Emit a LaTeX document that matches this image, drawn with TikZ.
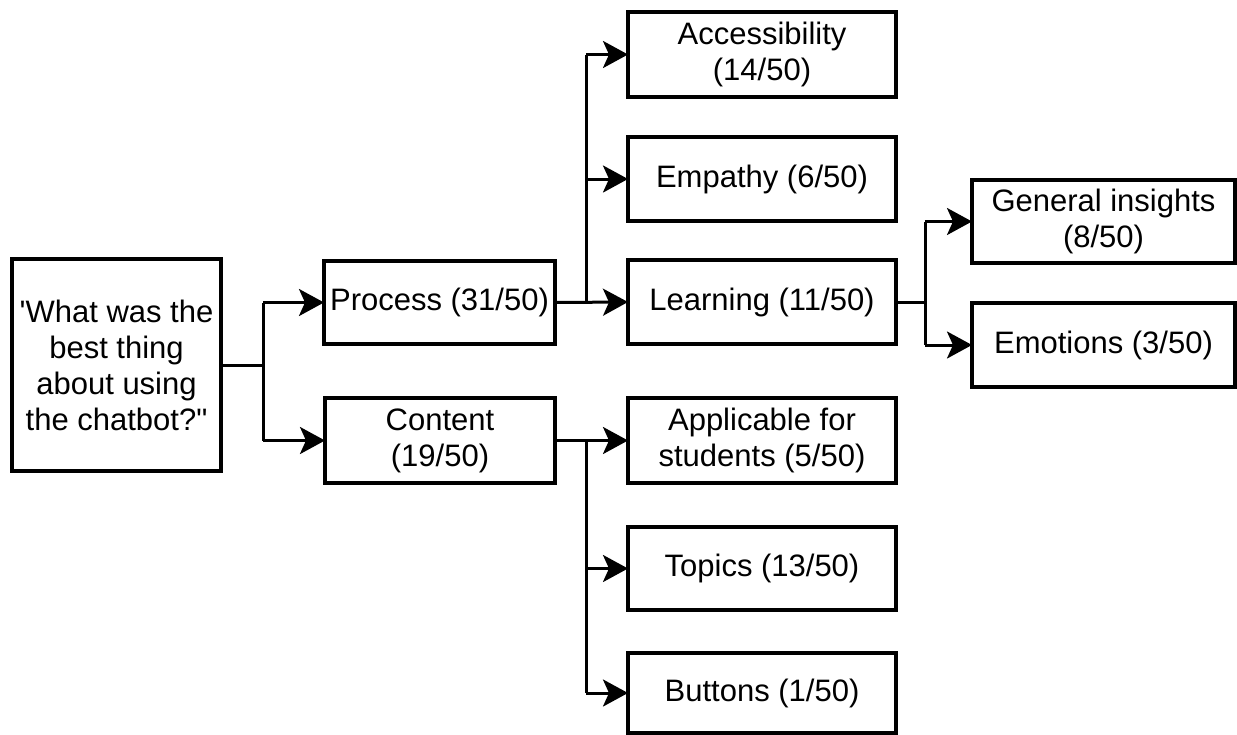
\documentclass[tikz,border=0pt]{standalone}
\usepackage{fontspec}
\newfontfamily\plainfont{Liberation Sans}
\usetikzlibrary{arrows.meta}
\begin{document}
\begin{tikzpicture}[x=1pt,y=-1pt,
  box/.style={draw=black,line width=4pt,inner sep=0pt,outer sep=0pt,align=center,
    font=\plainfont\fontsize{31}{36}\selectfont},
  conn/.style={line width=3pt,line cap=butt},
  arr/.style={conn,-{Stealth[length=25pt,width=27pt,inset=6pt]}}]
\useasboundingbox (0,0) rectangle (1237,734);
% nodes
\node[box,minimum width=209pt,minimum height=212pt] (root) at (116.5,365) {'What was the\\best thing\\about using\\the chatbot?"};
\node[box,minimum width=231pt,minimum height=83pt] (process) at (439.5,302.5) {Process (31/50)};
\node[box,minimum width=230pt,minimum height=85pt] (content) at (440,440.5) {Content\\(19/50)};
\node[box,minimum width=268pt,minimum height=85pt] (access) at (762,54.5) {Accessibility\\(14/50)};
\node[box,minimum width=268pt,minimum height=84pt] (empathy) at (762,179) {Empathy (6/50)};
\node[box,minimum width=268pt,minimum height=84pt] (learning) at (762,302) {Learning (11/50)};
\node[box,minimum width=268pt,minimum height=85pt] (applic) at (762,440.5) {Applicable for\\students (5/50)};
\node[box,minimum width=268pt,minimum height=83pt] (topics) at (762,568.5) {Topics (13/50)};
\node[box,minimum width=268pt,minimum height=80pt] (buttons) at (762,693) {Buttons (1/50)};
\node[box,minimum width=263pt,minimum height=83pt] (general) at (1103.5,221.5) {General insights\\(8/50)};
\node[box,minimum width=263pt,minimum height=84pt] (emotions) at (1103.5,345) {Emotions (3/50)};
% branch points
\coordinate (b1) at (263,365);
\coordinate (b2) at (586,302);
\coordinate (b3) at (586,441);
\coordinate (b4) at (925,302);
% root branch
\draw[conn] (root.east) -- (root.east -| b1);
\draw[conn] (b1 |- process.west) -- (b1 |- content.west);
\draw[arr] (b1 |- process.west) -- (process.west);
\draw[arr] (b1 |- content.west) -- (content.west);
% process branch
\draw[arr] (process.east) -- (learning.west);
\draw[conn] (b2) -- (b2 |- access.west);
\draw[arr] (b2 |- access.west) -- (access.west);
\draw[arr] (b2 |- empathy.west) -- (empathy.west);
% content branch
\draw[arr] (content.east) -- (applic.west);
\draw[conn] (b3) -- (b3 |- buttons.west);
\draw[arr] (b3 |- topics.west) -- (topics.west);
\draw[arr] (b3 |- buttons.west) -- (buttons.west);
% learning branch
\draw[conn] (learning.east) -- (b4);
\draw[conn] (b4 |- general.west) -- (b4 |- emotions.west);
\draw[arr] (b4 |- general.west) -- (general.west);
\draw[arr] (b4 |- emotions.west) -- (emotions.west);
\end{tikzpicture}
\end{document}
